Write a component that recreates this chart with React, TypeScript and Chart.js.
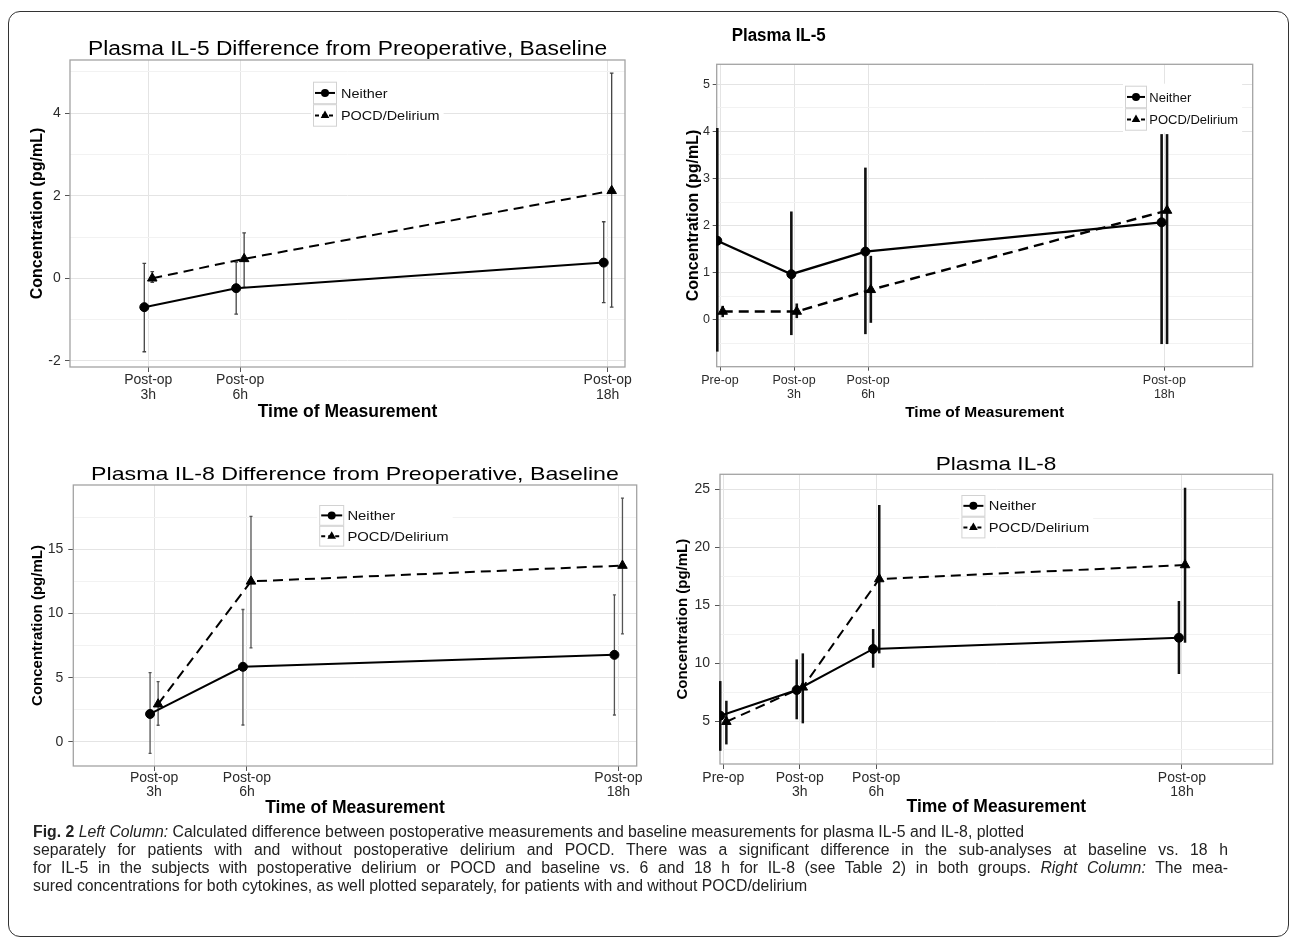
import React, { useEffect, useRef } from 'react';
import { Chart, registerables } from 'chart.js';

Chart.register(...registerables);

const FONT = "'Liberation Sans', Arial, Helvetica, sans-serif";

// ---------------- data ----------------
const seriesNames = ['Neither', 'POCD/Delirium'];
const xAxisTitle = 'Time of Measurement';
const yAxisTitle = 'Concentration (pg/mL)';

// Top-left: Plasma IL-5 difference from preoperative baseline
const il5DiffTimes = [3, 6, 18];
const il5DiffTickLabels = [['Post-op', '3h'], ['Post-op', '6h'], ['Post-op', '18h']];
const il5DiffYTicks = [-2, 0, 2, 4];
const il5DiffNeither = [-0.7, -0.24, 0.38];
const il5DiffNeitherLow = [-1.78, -0.87, -0.59];
const il5DiffNeitherHigh = [0.36, 0.39, 1.37];
const il5DiffPocd = [0.0, 0.47, 2.12];
const il5DiffPocdLow = [-0.1, -0.22, -0.7];
const il5DiffPocdHigh = [0.16, 1.1, 4.97];

// Top-right: Plasma IL-5
const il5Times = [0, 3, 6, 18];
const il5TickLabels = ['Pre-op', ['Post-op', '3h'], ['Post-op', '6h'], ['Post-op', '18h']];
const il5YTicks = [0, 1, 2, 3, 4, 5];
const il5Neither = [1.68, 0.97, 1.45, 2.07];
const il5NeitherLow = [-0.67, -0.32, -0.3, -0.51];
const il5NeitherHigh = [4.07, 2.3, 3.23, 3.94];
const il5Pocd = [0.18, 0.18, 0.64, 2.32];
const il5PocdLow = [0.06, 0.04, -0.06, -0.51];
const il5PocdHigh = [0.3, 0.35, 1.36, 3.94];

// Bottom-left: Plasma IL-8 difference from preoperative baseline
const il8DiffTimes = [3, 6, 18];
const il8DiffTickLabels = [['Post-op', '3h'], ['Post-op', '6h'], ['Post-op', '18h']];
const il8DiffYTicks = [0, 5, 10, 15];
const il8DiffNeither = [2.18, 5.85, 6.78];
const il8DiffNeitherLow = [-0.88, 1.32, 2.1];
const il8DiffNeitherHigh = [5.4, 10.31, 11.45];
const il8DiffPocd = [2.94, 12.5, 13.73];
const il8DiffPocdLow = [1.3, 7.33, 8.41];
const il8DiffPocdHigh = [4.7, 17.56, 18.98];

// Bottom-right: Plasma IL-8
const il8Times = [0, 3, 6, 18];
const il8TickLabels = ['Pre-op', ['Post-op', '3h'], ['Post-op', '6h'], ['Post-op', '18h']];
const il8YTicks = [5, 10, 15, 20, 25];
const il8Neither = [5.46, 7.68, 11.22, 12.19];
const il8NeitherLow = [2.43, 5.15, 9.6, 9.06];
const il8NeitherHigh = [8.45, 10.32, 12.94, 15.36];
const il8Pocd = [4.94, 7.91, 17.26, 18.47];
const il8PocdLow = [2.98, 4.8, 10.84, 11.76];
const il8PocdHigh = [6.75, 10.84, 23.65, 25.14];

// ---------------- styling / layout ----------------
const GRID_MAJOR = '#e4e4e4';
const GRID_MINOR = '#f2f2f2';
const BORDER = '#a3a3a3';
const TICK_MARK = '#555555';
const TICK_TEXT = '#2b2b2b';

type Series = { mean: number[]; low: number[]; high: number[] };

interface PanelSpec {
  left: number; top: number; width: number; height: number;
  plot: { left: number; top: number; right: number; bottom: number };
  xMin: number; xMax: number; yMin: number; yMax: number;
  times: number[]; tickLabels: any[]; yTicks: number[];
  neither: Series; pocd: Series;
  dodge: number;
  title: { text: string; x: number; y: number; size: number; bold: boolean; scaleX: number; align: 'center' | 'left' };
  legend: { x: number; y: number; keyW: number; keyH: number; size: number; scaleX: number; gap: number };
  tickSize: number; xTickLH: string; xTickLen: number; xTickPad: number; yTickLen: number; yTickPad: number;
  yTitleSize: number; yTitlePad: number; xTitleSize: number; xTitlePad: number;
  lineWidth: number; errWidth: number; errColor: string; cap: number; circleR: number; triR: number;
}

const panels: PanelSpec[] = [
  {
    left: 0, top: 0, width: 645, height: 440,
    plot: { left: 70, top: 60, right: 625, bottom: 367 },
    xMin: 0.444, xMax: 18.565, yMin: -2.15, yMax: 5.29,
    times: il5DiffTimes, tickLabels: il5DiffTickLabels, yTicks: il5DiffYTicks,
    neither: { mean: il5DiffNeither, low: il5DiffNeitherLow, high: il5DiffNeitherHigh },
    pocd: { mean: il5DiffPocd, low: il5DiffPocdLow, high: il5DiffPocdHigh },
    dodge: 0.13,
    title: { text: 'Plasma IL-5 Difference from Preoperative, Baseline', x: 347.5, y: 55, size: 20, bold: false, scaleX: 1.14, align: 'center' },
    legend: { x: 313, y: 81.7, keyW: 24, keyH: 22.5, size: 13, scaleX: 1.11, gap: 4 },
    tickSize: 14, xTickLH: '14.5px', xTickLen: 5, xTickPad: 1.3, yTickLen: 5, yTickPad: 4.3,
    yTitleSize: 16, yTitlePad: 28.4, xTitleSize: 17.5, xTitlePad: 17.8,
    lineWidth: 2, errWidth: 1.3, errColor: '#444', cap: 1.8, circleR: 4.5, triR: 5.5,
  },
  {
    left: 645, top: 0, width: 645, height: 440,
    plot: { left: 71.7, top: 64.3, right: 607.7, bottom: 366.7 },
    xMin: -0.134, xMax: 21.58, yMin: -0.99, yMax: 5.42,
    times: il5Times, tickLabels: il5TickLabels, yTicks: il5YTicks,
    neither: { mean: il5Neither, low: il5NeitherLow, high: il5NeitherHigh },
    pocd: { mean: il5Pocd, low: il5PocdLow, high: il5PocdHigh },
    dodge: 0.11,
    title: { text: 'Plasma IL-5', x: 86.7, y: 40.7, size: 18, bold: true, scaleX: 0.94, align: 'left' },
    legend: { x: 480, y: 85.7, keyW: 22, keyH: 22.5, size: 13, scaleX: 1.0, gap: 2.3 },
    tickSize: 12.5, xTickLH: '14px', xTickLen: 4, xTickPad: 3.3, yTickLen: 4, yTickPad: 2.7,
    yTitleSize: 16, yTitlePad: 38.7, xTitleSize: 15.5, xTitlePad: 18,
    lineWidth: 2.4, errWidth: 2.6, errColor: '#111', cap: 0, circleR: 4.5, triR: 5.5,
  },
  {
    left: 0, top: 440, width: 650, height: 385,
    plot: { left: 73.3, top: 45, right: 636.7, bottom: 326 },
    xMin: 0.39, xMax: 18.59, yMin: -1.87, yMax: 20.0,
    times: il8DiffTimes, tickLabels: il8DiffTickLabels, yTicks: il8DiffYTicks,
    neither: { mean: il8DiffNeither, low: il8DiffNeitherLow, high: il8DiffNeitherHigh },
    pocd: { mean: il8DiffPocd, low: il8DiffPocdLow, high: il8DiffPocdHigh },
    dodge: 0.13,
    title: { text: 'Plasma IL-8 Difference from Preoperative, Baseline', x: 355, y: 40, size: 19, bold: false, scaleX: 1.22, align: 'center' },
    legend: { x: 319.2, y: 65, keyW: 25, keyH: 20.8, size: 13, scaleX: 1.14, gap: 3.2 },
    tickSize: 14, xTickLH: '13.5px', xTickLen: 5, xTickPad: 0.6, yTickLen: 5, yTickPad: 5,
    yTitleSize: 15, yTitlePad: 29.3, xTitleSize: 17.5, xTitlePad: 6.5,
    lineWidth: 2, errWidth: 1.3, errColor: '#555', cap: 1.5, circleR: 4.5, triR: 5.5,
  },
  {
    left: 645, top: 440, width: 645, height: 385,
    plot: { left: 75, top: 34.3, right: 627.7, bottom: 324 },
    xMin: -0.13, xMax: 21.56, yMin: 1.29, yMax: 26.3,
    times: il8Times, tickLabels: il8TickLabels, yTicks: il8YTicks,
    neither: { mean: il8Neither, low: il8NeitherLow, high: il8NeitherHigh },
    pocd: { mean: il8Pocd, low: il8PocdLow, high: il8PocdHigh },
    dodge: 0.12,
    title: { text: 'Plasma IL-8', x: 351, y: 30, size: 19, bold: false, scaleX: 1.19, align: 'center' },
    legend: { x: 316.4, y: 55, keyW: 24, keyH: 21.7, size: 13, scaleX: 1.13, gap: 3.4 },
    tickSize: 14, xTickLH: '13.4px', xTickLen: 5, xTickPad: 2.6, yTickLen: 5, yTickPad: 5,
    yTitleSize: 15, yTitlePad: 29.3, xTitleSize: 17.5, xTitlePad: 7.8,
    lineWidth: 2, errWidth: 2.5, errColor: '#111', cap: 0, circleR: 4.5, triR: 5.5,
  },
];

function withMinor(major: number[], min: number, max: number): number[] {
  const step = major.length > 1 ? major[1] - major[0] : 1;
  const vals = new Set<number>();
  major.forEach((m) => { vals.add(m); vals.add(m - step / 2); vals.add(m + step / 2); });
  return Array.from(vals).filter((v) => v >= min && v <= max).sort((a, b) => a - b);
}

function drawLegend(ctx: CanvasRenderingContext2D, s: PanelSpec) {
  const L = s.legend;
  ctx.save();
  ctx.font = `${L.size}px ${FONT}`;
  const textW = Math.max(...seriesNames.map((n) => ctx.measureText(n).width)) * L.scaleX;
  ctx.fillStyle = '#ffffff';
  ctx.fillRect(L.x - 2, L.y - 2, L.keyW + L.gap + textW + 6, L.keyH * 2 + 4);
  seriesNames.forEach((name, k) => {
    const bx = L.x;
    const by = L.y + k * L.keyH;
    ctx.setLineDash([]);
    ctx.strokeStyle = '#d2d2d2';
    ctx.lineWidth = 1;
    ctx.strokeRect(bx + 0.5, by + 0.5, L.keyW - 1, L.keyH - 1);
    const cy = by + L.keyH / 2;
    const cx = bx + L.keyW / 2;
    ctx.strokeStyle = '#000';
    ctx.lineWidth = 2;
    ctx.setLineDash(k === 1 ? [4, 3] : []);
    ctx.beginPath();
    ctx.moveTo(bx + 2, cy);
    ctx.lineTo(bx + L.keyW - 2, cy);
    ctx.stroke();
    ctx.setLineDash([]);
    ctx.fillStyle = '#000';
    ctx.beginPath();
    if (k === 0) {
      ctx.arc(cx, cy, 4, 0, Math.PI * 2);
    } else {
      const r = 5;
      ctx.moveTo(cx, cy - r);
      ctx.lineTo(cx + 0.866 * r, cy + 0.5 * r);
      ctx.lineTo(cx - 0.866 * r, cy + 0.5 * r);
      ctx.closePath();
    }
    ctx.fill();
    ctx.save();
    ctx.translate(bx + L.keyW + L.gap, cy);
    ctx.scale(L.scaleX, 1);
    ctx.fillStyle = '#111';
    ctx.textBaseline = 'middle';
    ctx.textAlign = 'left';
    ctx.fillText(name, 0, 1);
    ctx.restore();
  });
  ctx.restore();
}

function drawTitle(ctx: CanvasRenderingContext2D, s: PanelSpec) {
  const T = s.title;
  ctx.save();
  ctx.font = `${T.bold ? 'bold ' : ''}${T.size}px ${FONT}`;
  ctx.fillStyle = '#000';
  ctx.textBaseline = 'alphabetic';
  ctx.textAlign = 'left';
  const w = ctx.measureText(T.text).width * T.scaleX;
  const x0 = T.align === 'center' ? T.x - w / 2 : T.x;
  ctx.translate(x0, T.y);
  ctx.scale(T.scaleX, 1);
  ctx.fillText(T.text, 0, 0);
  ctx.restore();
}

function makePlugin(s: PanelSpec) {
  return {
    id: 'panelDecor',
    beforeDatasetsDraw(chart: any) {
      const ctx: CanvasRenderingContext2D = chart.ctx;
      const area = chart.chartArea;
      const yScale = chart.scales.y;
      ctx.save();
      ctx.strokeStyle = BORDER;
      ctx.lineWidth = 1.3;
      ctx.strokeRect(area.left, area.top, area.right - area.left, area.bottom - area.top);
      ctx.strokeStyle = s.errColor;
      ctx.lineWidth = s.errWidth;
      chart.data.datasets.forEach((ds: any, di: number) => {
        const meta = chart.getDatasetMeta(di);
        meta.data.forEach((pt: any, i: number) => {
          const x = pt.x;
          const yl = yScale.getPixelForValue(ds.errLow[i]);
          const yh = yScale.getPixelForValue(ds.errHigh[i]);
          ctx.beginPath();
          ctx.moveTo(x, yl);
          ctx.lineTo(x, yh);
          if (s.cap > 0) {
            ctx.moveTo(x - s.cap, yl);
            ctx.lineTo(x + s.cap, yl);
            ctx.moveTo(x - s.cap, yh);
            ctx.lineTo(x + s.cap, yh);
          }
          ctx.stroke();
        });
      });
      ctx.restore();
    },
    afterDraw(chart: any) {
      drawTitle(chart.ctx, s);
      drawLegend(chart.ctx, s);
    },
  };
}

function buildConfig(s: PanelSpec): any {
  const yAll = withMinor(s.yTicks, s.yMin, s.yMax);
  const isMajorY = (v: number) => s.yTicks.indexOf(v) >= 0;
  const mkData = (ser: Series, off: number) => s.times.map((t, i) => ({ x: t + off, y: ser.mean[i] }));
  return {
    type: 'line',
    data: {
      datasets: [
        {
          label: seriesNames[0],
          data: mkData(s.neither, -s.dodge),
          errLow: s.neither.low,
          errHigh: s.neither.high,
          borderColor: '#000',
          backgroundColor: '#000',
          borderWidth: s.lineWidth,
          pointStyle: 'circle',
          pointRadius: s.circleR,
          pointBackgroundColor: '#000',
          pointBorderColor: '#000',
          pointBorderWidth: 1,
          tension: 0,
          fill: false,
        },
        {
          label: seriesNames[1],
          data: mkData(s.pocd, s.dodge),
          errLow: s.pocd.low,
          errHigh: s.pocd.high,
          borderColor: '#000',
          backgroundColor: '#000',
          borderWidth: s.lineWidth,
          borderDash: [10, 6],
          pointStyle: 'triangle',
          pointRadius: s.triR,
          pointBackgroundColor: '#000',
          pointBorderColor: '#000',
          pointBorderWidth: 1,
          tension: 0,
          fill: false,
        },
      ],
    },
    options: {
      responsive: false,
      animation: false,
      devicePixelRatio: 1,
      events: [],
      layout: { padding: { left: 0, top: s.plot.top, right: s.width - s.plot.right, bottom: 0 } },
      plugins: { legend: { display: false }, tooltip: { enabled: false }, title: { display: false } },
      scales: {
        x: {
          type: 'linear',
          position: 'bottom',
          min: s.xMin,
          max: s.xMax,
          afterFit: (sc: any) => { sc.height = s.height - s.plot.bottom; },
          afterBuildTicks: (sc: any) => { sc.ticks = s.times.map((v) => ({ value: v })); },
          ticks: {
            autoSkip: false,
            maxRotation: 0,
            minRotation: 0,
            padding: s.xTickPad,
            color: TICK_TEXT,
            font: { family: FONT, size: s.tickSize, lineHeight: s.xTickLH },
            callback: (v: number) => {
              const i = s.times.indexOf(v);
              return i >= 0 ? s.tickLabels[i] : '';
            },
          },
          grid: { color: GRID_MAJOR, tickColor: TICK_MARK, tickLength: s.xTickLen, drawTicks: true, lineWidth: 1 },
          border: { display: false },
          title: {
            display: true,
            text: xAxisTitle,
            color: '#000',
            font: { family: FONT, size: s.xTitleSize, weight: 'bold', lineHeight: 1.2 },
            padding: { top: 0, bottom: s.xTitlePad },
          },
        },
        y: {
          type: 'linear',
          position: 'left',
          min: s.yMin,
          max: s.yMax,
          afterFit: (sc: any) => { sc.width = s.plot.left; },
          afterBuildTicks: (sc: any) => { sc.ticks = yAll.map((v) => ({ value: v })); },
          ticks: {
            autoSkip: false,
            padding: s.yTickPad,
            color: TICK_TEXT,
            font: { family: FONT, size: s.tickSize },
            callback: (v: number) => (isMajorY(v) ? String(v) : ''),
          },
          grid: {
            color: (c: any) => (c.tick && isMajorY(c.tick.value) ? GRID_MAJOR : GRID_MINOR),
            tickColor: (c: any) => (c.tick && isMajorY(c.tick.value) ? TICK_MARK : 'rgba(0,0,0,0)'),
            tickLength: s.yTickLen,
            drawTicks: true,
            lineWidth: 1,
          },
          border: { display: false },
          title: {
            display: true,
            text: yAxisTitle,
            color: '#000',
            font: { family: FONT, size: s.yTitleSize, weight: 'bold', lineHeight: 1.2 },
            padding: { top: s.yTitlePad, bottom: 0 },
          },
        },
      },
    },
    plugins: [makePlugin(s)],
  };
}

function Panel({ spec }: { spec: PanelSpec }) {
  const ref = useRef<HTMLCanvasElement | null>(null);
  useEffect(() => {
    if (!ref.current) return;
    const chart = new Chart(ref.current, buildConfig(spec));
    return () => chart.destroy();
  }, [spec]);
  return (
    <canvas
      ref={ref}
      width={spec.width}
      height={spec.height}
      style={{ position: 'absolute', left: spec.left, top: spec.top, width: spec.width, height: spec.height }}
    />
  );
}

const captionLine: React.CSSProperties = { whiteSpace: 'nowrap' };
const captionJustified: React.CSSProperties = { whiteSpace: 'nowrap', width: 1195, textAlign: 'justify', textAlignLast: 'justify' } as any;

export default function App() {
  return (
    <div style={{ position: 'absolute', left: 0, top: 0, width: 1290, height: 938, background: '#fff', overflow: 'hidden' }}>
      <div
        style={{
          position: 'absolute', left: 8, top: 11, width: 1281, height: 926,
          border: '1.5px solid #333', borderRadius: 12, boxSizing: 'border-box',
        }}
      />
      {panels.map((p, i) => (
        <Panel key={i} spec={p} />
      ))}
      <div
        style={{
          position: 'absolute', left: 33, top: 822.5, fontFamily: FONT, fontSize: 15.8,
          lineHeight: '18.2px', color: '#222',
        }}
      >
        <div style={captionLine}>
          <b>Fig. 2</b> <i>Left Column:</i> Calculated difference between postoperative measurements and baseline measurements for plasma IL-5 and IL-8, plotted
        </div>
        <div style={captionJustified}>
          separately for patients with and without postoperative delirium and POCD. There was a significant difference in the sub-analyses at baseline vs. 18 h
        </div>
        <div style={captionJustified}>
          for IL-5 in the subjects with postoperative delirium or POCD and baseline vs. 6 and 18 h for IL-8 (see Table 2) in both groups. <i>Right Column:</i> The mea-
        </div>
        <div style={captionLine}>
          sured concentrations for both cytokines, as well plotted separately, for patients with and without POCD/delirium
        </div>
      </div>
    </div>
  );
}
